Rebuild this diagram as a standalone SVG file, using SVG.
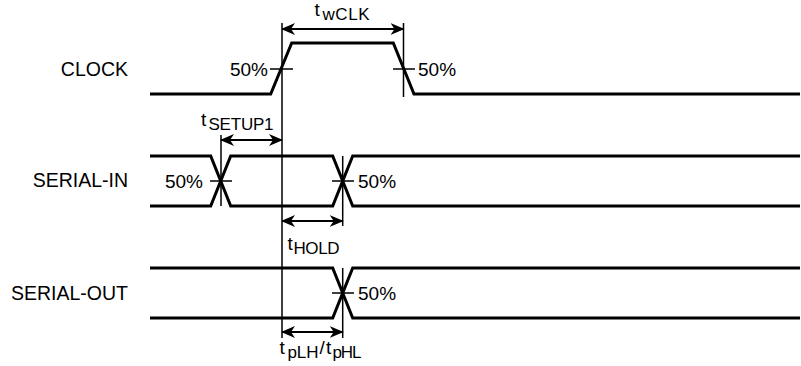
<svg xmlns="http://www.w3.org/2000/svg" width="801" height="366" viewBox="0 0 801 366">
<defs>
<style>
.wave{fill:none;stroke:#000;stroke-width:3;stroke-linejoin:miter}
.ref{fill:none;stroke:#000;stroke-width:1.5}
.dim{fill:none;stroke:#000;stroke-width:2;marker-start:url(#ah);marker-end:url(#ah)}
.lbl{font-family:"Liberation Sans",Arial,sans-serif;font-size:19.5px;fill:#000}
.pct{font-family:"Liberation Sans",Arial,sans-serif;font-size:19px;fill:#000}
.t{font-family:"Liberation Sans",Arial,sans-serif;font-size:19px;fill:#000}
.sub{font-size:17px}
</style>
<marker id="ah" viewBox="0 0 14 12" refX="13" refY="6" markerWidth="14" markerHeight="12" markerUnits="userSpaceOnUse" orient="auto-start-reverse">
<path d="M0,0 L14,6 L0,12 L4,6 Z" fill="#000"/>
</marker>
</defs>
<rect width="801" height="366" fill="#fff"/>
<g id="labels">
<text class="lbl" x="128" y="76" text-anchor="end">CLOCK</text>
<text class="lbl" x="128" y="187" text-anchor="end">SERIAL-IN</text>
<text class="lbl" x="128" y="300" text-anchor="end">SERIAL-OUT</text>
</g>
<g id="clock">
<path class="wave" d="M150,94 H270.7 L291.7,43 H393.3 L414,94 H800"/>
<path class="ref" d="M270,69 H293 M393,69 H415"/>
<text class="pct" x="268" y="75.5" text-anchor="end">50%</text>
<text class="pct" x="418" y="75.5">50%</text>
</g>
<g id="serial-in">
<path class="wave" d="M150,156 H210.7 L230.7,206 H332.7 L352.7,156 H800"/>
<path class="wave" d="M150,206 H210.7 L230.7,156 H332.7 L352.7,206 H800"/>
<path class="ref" d="M210,181 H232 M332,181 H354"/>
<text class="pct" x="203" y="188" text-anchor="end">50%</text>
<text class="pct" x="358" y="188">50%</text>
</g>
<g id="serial-out">
<path class="wave" d="M150,268 H332.7 L352.7,318 H800"/>
<path class="wave" d="M150,318 H332.7 L352.7,268 H800"/>
<path class="ref" d="M332,293 H354"/>
<text class="pct" x="358" y="300">50%</text>
</g>
<g id="connectors">
<path class="ref" d="M282,23 V338 M403.5,23 V97 M221,135 V206 M342.7,156 V226 M342.7,268 V338"/>
<path class="dim" d="M282,29 H403.5"/>
<path class="dim" d="M221,140 H282"/>
<path class="dim" d="M282,221 H342.7"/>
<path class="dim" d="M282,332 H342.7"/>
</g>
<g id="timing-labels">
<text class="t" x="314.5" y="16">t<tspan class="sub" x="322.5" y="19.5" textLength="47">wCLK</tspan></text>
<text class="t" x="201" y="126">t<tspan class="sub" x="208.5" y="129.5" textLength="65">SETUP1</tspan></text>
<text class="t" x="287.5" y="250">t<tspan class="sub" x="293.5" y="254" textLength="46">HOLD</tspan></text>
<text class="t" x="279.5" y="354">t<tspan class="sub" x="287.5" y="357.5" textLength="31">pLH</tspan><tspan x="319.5" y="354">/</tspan><tspan x="326" y="354">t</tspan><tspan class="sub" x="332.5" y="357.5" textLength="29">pHL</tspan></text>
</g>
</svg>
